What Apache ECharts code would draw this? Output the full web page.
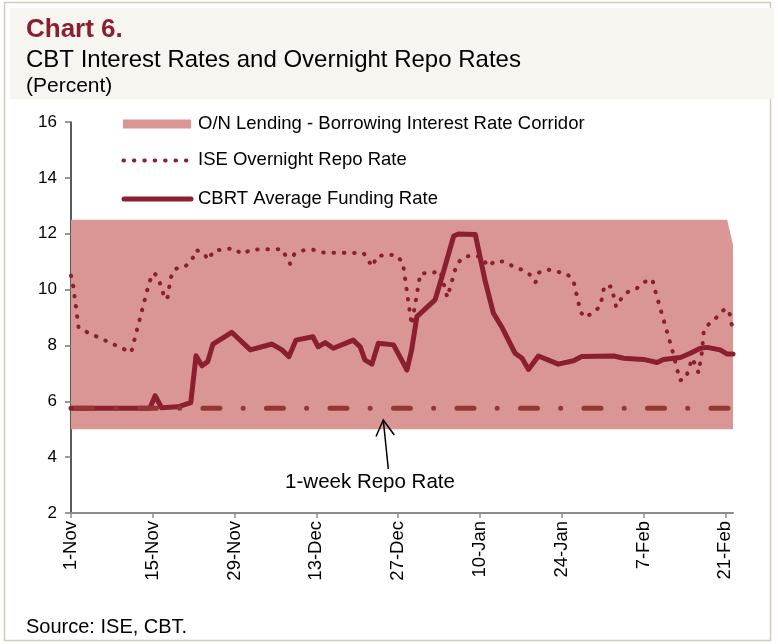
<!DOCTYPE html>
<html>
<head>
<meta charset="utf-8">
<script src="https://cdn.jsdelivr.net/npm/echarts@6/dist/echarts.min.js"></script>
<style>
  html, body { margin: 0; padding: 0; background: #fff; }
  #chart { width: 778px; height: 644px; }
</style>
</head>
<body>
<div id="chart"></div>
<script>
// x values are days counted from 1-Nov
const tickDays = [0, 14, 28, 42, 56, 70, 84, 98, 112]
const tickLabels = ['1-Nov', '15-Nov', '29-Nov', '13-Dec', '27-Dec', '10-Jan', '24-Jan', '7-Feb', '21-Feb']

// O/N lending - borrowing corridor
const corridorDays = [0, 112.3, 113.3]
const corridorUpper = [12.5, 12.5, 11.6]
const corridorLower = 5

// ISE overnight repo rate
const iseDays = [0, 0.4, 1.3, 2.2, 10.3, 13.4, 14.2, 14.9, 16.1, 16.5, 17.1, 17.8, 19.5, 20.7, 21.4,
  22.7, 23.5, 24.4, 27.8, 29.3, 30.8, 36.1, 36.9, 37.5, 38.2, 39.6, 41.4, 43.0, 50.1, 51.0,
  51.6, 52.3, 53.9, 55.7, 56.8, 58.3, 59.8, 61.5, 63.2, 64.4, 66.0, 67.0, 68.8, 70.4, 71.3,
  72.7, 74.3, 75.9, 77.6, 78.8, 79.5, 80.1, 81.5, 83.2, 84.9, 86.0, 87.2, 87.9, 89.4, 90.6,
  91.3, 92.5, 93.3, 94.0, 95.0, 96.7, 98.1, 99.5, 99.9, 102.9, 103.8, 104.2, 105.2, 106.3, 106.8,
  107.4, 108.0, 108.3, 109.3, 110.7, 111.9, 112.6, 113.3]
const iseRate = [10.5, 10.1, 8.63, 8.53, 7.75, 10.27, 10.6, 10.44, 9.65, 9.7, 10.44, 10.74, 10.82, 11.06, 11.42,
  11.3, 11.06, 11.39, 11.48, 11.27, 11.43, 11.45, 11.14, 10.92, 11.26, 11.40, 11.43, 11.33, 11.3, 11.0,
  10.82, 11.18, 11.25, 11.23, 10.96, 8.73, 10.58, 10.58, 10.67, 9.72, 10.89, 11.14, 11.24, 11.15, 10.83,
  11.03, 10.99, 10.8, 10.68, 10.49, 10.26, 10.61, 10.72, 10.64, 10.56, 10.31, 9.21, 9.0, 9.17, 9.41,
  10.15, 10.1, 9.38, 9.63, 9.89, 10.02, 10.27, 10.37, 10.02, 7.84, 7.1, 6.75, 6.81, 7.54, 7.33,
  7.02, 7.78, 8.53, 8.8, 9.04, 9.31, 9.26, 8.52]

// CBRT average funding rate
const fundDays = [0, 13.5, 14.4, 15.5, 18.3, 20.5, 21.4, 22.4, 23.4, 24.3, 27.5, 30.7, 34.4, 36.1, 37.3,
  38.5, 41.4, 42.3, 43.5, 44.9, 48.3, 49.5, 50.3, 51.5, 52.6, 55.2, 57.5, 58.3, 59.2, 62.3,
  63.5, 65.5, 66.3, 69.2, 70.9, 72.3, 73.7, 76.0, 77.2, 78.3, 80.0, 83.4, 86.0, 87.4, 92.9,
  94.6, 98.0, 100.3, 101.4, 104.3, 106.0, 107.7, 108.9, 111.1, 112.3, 113.3]
const fundRate = [5.75, 5.75, 6.2, 5.77, 5.8, 5.95, 7.63, 7.27, 7.42, 8.05, 8.47, 7.84, 8.05, 7.84, 7.6,
  8.19, 8.31, 7.95, 8.1, 7.9, 8.19, 7.95, 7.48, 7.33, 8.08, 8.02, 7.12, 7.84, 9.03, 9.63,
  10.46, 11.92, 11.99, 11.97, 10.29, 9.15, 8.67, 7.72, 7.54, 7.14, 7.62, 7.33, 7.45, 7.6, 7.62,
  7.54, 7.5, 7.39, 7.5, 7.57, 7.72, 7.9, 7.93, 7.84, 7.69, 7.69]

// 1-week repo rate
const repoDays = [0, 113.3]
const repoRate = [5.75, 5.75]

const pair = (xs, ys) => xs.map((x, i) => [x, ys[i]])

const bandColor = '#d99694'
const lineColor = '#8b1e2f'
const repoColor = '#963634'
const font = '"Liberation Sans", Arial, sans-serif'

let chart = echarts.init(document.getElementById('chart'), null, {renderer: 'canvas'})

let option = {
  animation: false,
  grid: {left: 71, right: 45, top: 122, bottom: 131},
  xAxis: {
    type: 'value',
    min: 0,
    max: 113.3,
    interval: 14,
    splitLine: {show: false},
    axisLine: {lineStyle: {color: '#8c8c8c', width: 2}},
    axisTick: {length: 5, lineStyle: {color: '#8c8c8c', width: 1.5}, customValues: tickDays},
    axisLabel: {
      customValues: tickDays,
      rotate: 90,
      margin: 8,
      color: '#000',
      fontFamily: font,
      fontSize: 18.5,
      formatter: v => tickLabels[Math.round(v / 14)]
    }
  },
  yAxis: {
    type: 'value',
    min: 2,
    max: 16,
    interval: 2,
    splitLine: {show: false},
    axisLine: {show: true, lineStyle: {color: '#222', width: 1.5}},
    axisTick: {show: true, length: 6, lineStyle: {color: '#777', width: 1.5}},
    axisLabel: {color: '#000', fontFamily: font, fontSize: 17, margin: 14}
  },
  series: [
    {
      name: 'O/N Lending - Borrowing Interest Rate Corridor',
      type: 'line',
      data: pair(corridorDays, corridorUpper),
      symbol: 'none',
      lineStyle: {width: 0},
      areaStyle: {color: bandColor, opacity: 1, origin: corridorLower},
      z: 1
    },
    {
      name: 'ISE Overnight Repo Rate',
      type: 'line',
      data: pair(iseDays, iseRate),
      symbol: 'none',
      lineStyle: {color: lineColor, width: 4, type: [0.5, 9.8], cap: 'round', join: 'round'},
      z: 2
    },
    {
      name: 'CBRT Average Funding Rate',
      type: 'line',
      data: pair(fundDays, fundRate),
      symbol: 'none',
      lineStyle: {color: lineColor, width: 5, cap: 'round', join: 'round'},
      z: 3
    },
    {
      name: '1-week Repo Rate',
      type: 'line',
      data: pair(repoDays, repoRate),
      symbol: 'none',
      lineStyle: {color: repoColor, width: 5, type: [17, 23.2, 0.01, 23.3], dashOffset: 58.6, cap: 'round'},
      z: 4
    }
  ],
  graphic: [
    // frame and header
    {type: 'rect', z: -10, silent: true, shape: {x: 4.5, y: 2.5, width: 766, height: 638},
      style: {fill: null, stroke: '#d6ccb6', lineWidth: 1.5}},
    {type: 'rect', z: -9, silent: true, shape: {x: 10, y: 8, width: 764, height: 91},
      style: {fill: '#f7f5f0'}},
    {type: 'text', left: 26, top: 17, style: {text: 'Chart 6.', fill: '#8b1e2f', font: 'bold 26px ' + font}},
    {type: 'text', left: 26, top: 48, style: {text: 'CBT Interest Rates and Overnight Repo Rates', fill: '#000', font: '24px ' + font}},
    {type: 'text', left: 26, top: 76, style: {text: '(Percent)', fill: '#000', font: '21px ' + font}},

    // legend
    {type: 'rect', shape: {x: 123, y: 119.5, width: 68, height: 9}, style: {fill: bandColor}},
    {type: 'line', shape: {x1: 123.5, y1: 160.5, x2: 190, y2: 160.5},
      style: {stroke: lineColor, lineWidth: 4, lineDash: [0.5, 9.9], lineCap: 'round'}},
    {type: 'line', shape: {x1: 124, y1: 199, x2: 191, y2: 199},
      style: {stroke: lineColor, lineWidth: 5, lineCap: 'round'}},
    {type: 'text', x: 198, y: 124, style: {text: 'O/N Lending - Borrowing Interest Rate Corridor', fill: '#000', font: '18.5px ' + font, verticalAlign: 'middle'}},
    {type: 'text', x: 198, y: 160, style: {text: 'ISE Overnight Repo Rate', fill: '#000', font: '18.5px ' + font, verticalAlign: 'middle'}},
    {type: 'text', x: 198, y: 199, style: {text: 'CBRT Average Funding Rate', fill: '#000', font: '18.5px ' + font, verticalAlign: 'middle'}},

    // annotation
    {type: 'line', z: 100, shape: {x1: 388.3, y1: 469, x2: 383.3, y2: 420}, style: {stroke: '#000', lineWidth: 1.5}},
    {type: 'polyline', z: 100, shape: {points: [[376, 436.5], [383.3, 420], [394.3, 435]]}, style: {stroke: '#000', lineWidth: 1.5, fill: null}},
    {type: 'text', z: 100, x: 370, y: 482, style: {text: '1-week Repo Rate', fill: '#000', font: '20.5px ' + font, align: 'center', verticalAlign: 'middle'}},

    // source
    {type: 'text', x: 26, y: 627, style: {text: 'Source: ISE, CBT.', fill: '#000', font: '20px ' + font, verticalAlign: 'middle'}}
  ]
}

chart.setOption(option)
</script>
</body>
</html>
